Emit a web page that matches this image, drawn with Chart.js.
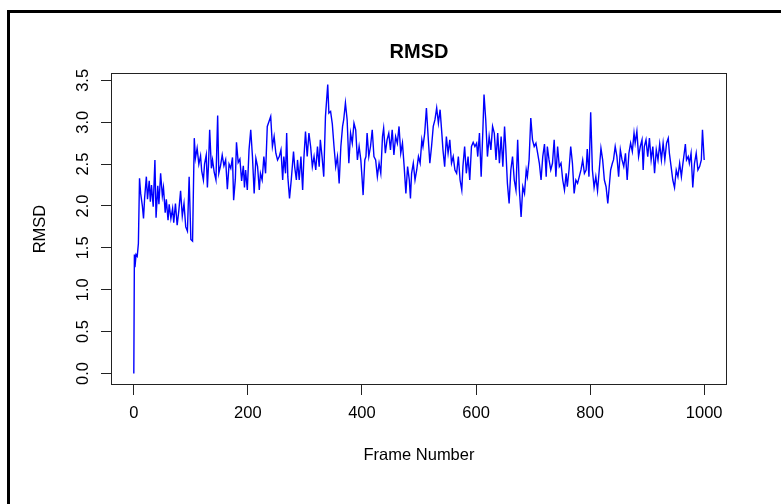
<!DOCTYPE html>
<html>
<head>
<meta charset="utf-8">
<script src="https://cdn.jsdelivr.net/npm/chart.js@4.4.0/dist/chart.umd.min.js"></script>
<style>
  html, body { margin: 0; padding: 0; background: #fff; }
  canvas { display: block; }
</style>
</head>
<body>
<canvas id="c" width="781" height="504"></canvas>
<script>
// ---- data ----
const chartTitle = 'RMSD';
const xTitle = 'Frame Number';
const yTitle = 'RMSD';

const frames = [
  0,1,2,4,6,8,10,12,15,17,19,22,24,27,29,31,34,37,39,42,44,47,50,52,55,57,60,62,65,68,70,73,76,79,82,85,88,
  91,94,97,100,103,106,108,111,114,117,119,122,124,127,129,131,133,136,138,141,144,147,149,152,155,158,161,164,167,170,
  173,175,178,180,183,186,189,192,194,
  196,199,202,205,208,211,214,217,220,222,225,228,231,234,237,240,243,246,249,252,255,258,261,263,266,268,270,273,276,280,
  282,285,287,290,293,296,298,301,304,307,310,313,316,319,322,325,327,330,333,336,340,342,345,348,351,354,357,360,363,366,
  368,371,374,377,380,383,386,389,392,395,398,400,402,
  405,407,409,412,415,418,421,424,427,430,433,436,438,441,444,447,450,453,456,459,462,465,468,471,474,477,480,483,485,487,
  490,493,496,499,502,505,507,510,513,516,519,522,525,528,531,534,537,540,542,545,548,551,554,557,560,563,566,569,572,575,
  577,580,583,586,589,592,595,598,601,
  603,606,609,612,614,617,620,623,626,629,632,635,638,641,644,647,650,652,655,658,661,664,667,670,673,676,679,682,685,688,
  690,693,696,699,702,705,708,711,714,717,720,723,725,728,731,734,737,740,743,746,749,752,755,758,760,763,766,769,772,775,
  778,781,784,787,790,793,795,798,801,
  804,807,810,813,816,819,822,825,828,831,833,836,839,841,844,847,850,853,856,859,862,865,868,871,874,877,879,882,885,888,
  891,893,895,898,901,904,907,910,913,916,919,922,925,928,931,934,937,939,942,945,948,951,954,957,960,962,965,967,969,972,
  974,977,980,983,986,989,992,995,997,1000
];

const rmsd = [
  0.00,1.42,1.27,1.42,1.40,1.55,2.33,2.15,2.00,1.85,2.10,2.35,2.08,2.30,2.05,2.25,1.99,2.55,1.86,2.24,2.02,2.39,2.12,2.22,1.92,2.08,1.83,2.02,1.85,1.97,1.80,2.03,1.77,1.95,2.18,1.88,2.03,
  1.75,1.70,2.35,1.60,1.58,2.81,2.57,2.69,2.50,2.60,2.42,2.31,2.50,2.61,2.22,2.50,2.91,2.45,2.55,2.40,2.31,3.08,2.39,2.48,2.61,2.48,2.55,2.20,2.50,2.45,
  2.58,2.07,2.32,2.76,2.52,2.56,2.30,2.48,2.22,
  2.43,2.19,2.67,2.91,2.59,2.15,2.57,2.47,2.19,2.39,2.31,2.59,2.39,2.95,3.01,3.07,2.71,2.83,2.63,2.55,2.59,2.67,2.31,2.59,2.39,2.87,2.35,2.09,2.31,2.65,
  2.47,2.31,2.55,2.31,2.59,2.19,2.55,2.89,2.59,2.87,2.71,2.47,2.59,2.43,2.71,2.47,2.79,2.59,2.35,3.07,3.45,3.11,3.13,2.98,2.71,2.47,2.59,2.27,2.71,2.95,
  3.03,3.23,3.03,2.51,2.87,2.75,2.99,2.91,2.55,2.71,2.55,2.35,2.13,
  2.55,2.59,2.87,2.59,2.71,2.91,2.59,2.55,2.35,2.51,2.39,2.83,2.93,2.63,2.79,2.87,2.67,2.91,2.61,2.83,2.75,2.95,2.63,2.75,2.47,2.15,2.47,2.31,2.09,2.39,
  2.51,2.31,2.43,2.59,2.51,2.79,2.71,2.87,3.17,2.83,2.51,2.71,2.95,3.03,3.17,2.99,3.15,2.87,2.67,2.47,2.83,2.63,2.79,2.51,2.59,2.43,2.39,2.59,2.31,2.19,
  2.47,2.71,2.39,2.59,2.31,2.71,2.76,2.71,2.75,
  2.59,2.87,2.35,2.91,3.33,3.03,2.59,2.83,2.67,2.95,2.87,2.55,2.87,2.51,2.83,2.47,2.95,2.71,2.27,2.03,2.43,2.59,2.31,2.19,2.79,2.19,1.87,2.23,2.15,2.43,
  2.35,2.55,3.05,2.79,2.71,2.75,2.63,2.51,2.31,2.59,2.74,2.35,2.71,2.55,2.43,2.51,2.79,2.35,2.71,2.47,2.51,2.31,2.19,2.39,2.23,2.43,2.71,2.51,2.15,2.31,
  2.27,2.35,2.43,2.55,2.39,2.43,2.68,2.35,3.12,
  2.43,2.22,2.35,2.18,2.43,2.69,2.55,2.31,2.23,2.03,2.19,2.43,2.51,2.55,2.71,2.59,2.35,2.67,2.55,2.47,2.63,2.31,2.63,2.75,2.65,2.87,2.75,2.89,2.59,2.71,
  2.79,2.43,2.71,2.79,2.59,2.81,2.55,2.71,2.39,2.67,2.55,2.74,2.55,2.75,2.55,2.75,2.81,2.63,2.47,2.31,2.22,2.43,2.35,2.51,2.35,2.47,2.63,2.74,2.55,2.59,
  2.51,2.63,2.22,2.51,2.63,2.43,2.47,2.55,2.91,2.55
];

const xTicks = [0, 200, 400, 600, 800, 1000];
const xTickLabels = ['0', '200', '400', '600', '800', '1000'];
const yTicks = [0, 0.5, 1, 1.5, 2, 2.5, 3, 3.5];
const yTickLabels = ['0.0', '0.5', '1.0', '1.5', '2.0', '2.5', '3.0', '3.5'];

// ---- styling ----
const FONT = 'Liberation Sans, Arial, Helvetica, sans-serif';
const points = frames.map((f, i) => ({ x: f, y: rmsd[i] }));

const framePlugin = {
  id: 'rframe',
  beforeDraw(chart) {
    const ctx = chart.ctx;
    ctx.save();
    ctx.fillStyle = '#fff';
    ctx.fillRect(0, 0, chart.width, chart.height);
    ctx.fillStyle = '#000';
    ctx.fillRect(7, 10, chart.width - 7, 3);
    ctx.fillRect(7, 10, 3, chart.height - 10);
    ctx.restore();
  },
  afterDraw(chart) {
    const ctx = chart.ctx;
    const a = chart.chartArea;
    const ys = chart.scales.y;
    ctx.save();
    // plot box
    ctx.strokeStyle = '#222';
    ctx.lineWidth = 1;
    ctx.strokeRect(Math.round(a.left) + 0.5, Math.round(a.top) + 0.5,
                   Math.round(a.right - a.left) - 1, Math.round(a.bottom - a.top) - 1);
    // main title
    ctx.fillStyle = '#000';
    ctx.font = 'bold 20px ' + FONT;
    ctx.textAlign = 'center';
    ctx.textBaseline = 'middle';
    ctx.fillText(chartTitle, (a.left + a.right) / 2, 52);
    // y tick labels (rotated, parallel to axis as in R)
    ctx.font = '16.5px ' + FONT;
    yTicks.forEach((v, i) => {
      const py = ys.getPixelForValue(v);
      ctx.save();
      ctx.translate(83, py);
      ctx.rotate(-Math.PI / 2);
      ctx.textAlign = 'center';
      ctx.textBaseline = 'middle';
      ctx.fillText(yTickLabels[i], 0, 0);
      ctx.restore();
    });
    ctx.restore();
  }
};

new Chart(document.getElementById('c'), {
  type: 'scatter',
  data: {
    datasets: [{
      data: points,
      showLine: true,
      borderColor: '#0000ff',
      backgroundColor: '#0000ff',
      borderWidth: 1.4,
      pointRadius: 0,
      tension: 0,
      fill: false
    }]
  },
  options: {
    responsive: false,
    animation: false,
    devicePixelRatio: 1,
    layout: { padding: { left: 0, right: 54, top: 73, bottom: 0 } },
    plugins: {
      legend: { display: false },
      tooltip: { enabled: false },
      title: { display: false }
    },
    scales: {
      x: {
        type: 'linear',
        min: -40,
        max: 1040,
        afterBuildTicks: s => { s.ticks = xTicks.map(v => ({ value: v })); },
        afterFit: s => { s.height = 119; },
        border: { display: false },
        grid: { drawOnChartArea: false, drawTicks: true, tickLength: 10, tickColor: '#222', tickWidth: 1 },
        ticks: {
          color: '#000',
          font: { family: FONT, size: 16.5 },
          padding: 9,
          maxRotation: 0,
          minRotation: 0,
          autoSkip: false,
          callback: (v) => xTickLabels[xTicks.indexOf(v)]
        },
        title: {
          display: true,
          text: xTitle,
          color: '#000',
          font: { family: FONT, size: 16.5 },
          padding: { top: 0, bottom: 39 }
        }
      },
      y: {
        type: 'linear',
        min: -0.138,
        max: 3.588,
        afterBuildTicks: s => { s.ticks = yTicks.map(v => ({ value: v })); },
        afterFit: s => { s.width = 111; },
        border: { display: false },
        grid: { drawOnChartArea: false, drawTicks: true, tickLength: 10, tickColor: '#222', tickWidth: 1 },
        ticks: { display: false },
        title: {
          display: true,
          text: yTitle,
          color: '#000',
          font: { family: FONT, size: 16.5 },
          padding: { top: 31, bottom: 0 }
        }
      }
    }
  },
  plugins: [framePlugin]
});
</script>
</body>
</html>
